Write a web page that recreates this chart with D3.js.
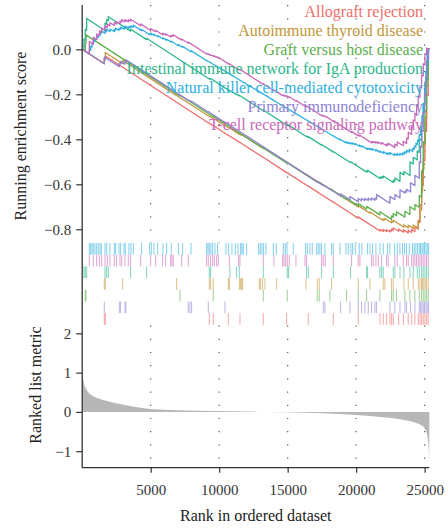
<!DOCTYPE html>
<html>
<head>
<meta charset="utf-8">
<script src="https://cdn.jsdelivr.net/npm/d3@7"></script>
<style>
  body { margin: 0; background: #fff; }
  svg { display: block; }
  text { font-family: "Liberation Serif", "DejaVu Serif", serif; }
</style>
</head>
<body>
<svg id="chart" width="448" height="529"></svg>
<script>
// ---- data -------------------------------------------------------------
const geneSets = [
  "Allograft rejection",
  "Autoimmune thyroid disease",
  "Graft versus host disease",
  "Intestinal immune network for IgA production",
  "Natural killer cell-mediated cytotoxicity",
  "Primary immunodeficiency",
  "T-cell receptor signaling pathway"
];
const setColors = ["#EF6E6B", "#C3963C", "#5CAF4C", "#2DB68C", "#2DAFE0", "#8F83D2", "#C968B8"];
// order of the hit rows under the score panel, top to bottom
const rugOrder = [4, 6, 3, 1, 2, 5, 0];

const totalGenes = 25340;
const rankTicks = [5000, 10000, 15000, 20000, 25000];
const esTicks = [0, -0.2, -0.4, -0.6, -0.8];
const metricTicks = [2, 1, 0, -1];

// ranked list metric along the ordered gene list
const metricRank  = [0, 80, 330, 690, 1300, 2030, 2760, 3800, 4950, 7000, 9820, 12000, 13500, 15000, 17500, 20040, 21980, 23200, 24420, 24900, 25150, 25280, 25340];
const metricValue = [1.03, 0.81, 0.56, 0.43, 0.33, 0.26, 0.20, 0.13, 0.076, 0.045, 0.025, 0.01, 0.0, -0.01, -0.035, -0.076, -0.135, -0.186, -0.29, -0.37, -0.54, -0.85, -1.26];

// running enrichment score at each hit: [rank, score before hit, score after hit]
const allograftES = [[1615,-0.064,-0.045],[1690,-0.048,-0.030],[9280,-0.330,-0.329],[9570,-0.340,-0.339],[10670,-0.383,-0.382],[11520,-0.415,-0.414],[13220,-0.481,-0.480],[14920,-0.548,-0.547],[16500,-0.609,-0.608],[18330,-0.680,-0.679],[20150,-0.751,-0.745],[21740,-0.808,-0.800],[21980,-0.810,-0.801],[22220,-0.810,-0.802],[22470,-0.812,-0.803],[22590,-0.808,-0.799],[22710,-0.804,-0.794],[23100,-0.809,-0.799],[23450,-0.813,-0.802],[23800,-0.816,-0.804],[24050,-0.814,-0.800],[24290,-0.810,-0.790],[24530,-0.800,-0.760],[24660,-0.765,-0.690],[24780,-0.695,-0.600],[24900,-0.605,-0.490],[25020,-0.495,-0.360],[25140,-0.365,-0.200],[25260,-0.205,0.003]];

const autoimmuneES = [[1615,-0.064,-0.039],[1687,-0.042,-0.014],[2952,-0.064,-0.050],[6894,-0.206,-0.205],[9278,-0.299,-0.297],[9376,-0.301,-0.300],[9570,-0.307,-0.306],[10665,-0.349,-0.348],[10739,-0.351,-0.349],[11468,-0.378,-0.376],[11565,-0.380,-0.379],[11638,-0.382,-0.380],[11711,-0.383,-0.381],[12928,-0.430,-0.428],[13025,-0.432,-0.430],[13171,-0.436,-0.435],[13341,-0.441,-0.440],[14193,-0.474,-0.472],[16334,-0.557,-0.555],[17161,-0.588,-0.586],[17307,-0.592,-0.591],[18207,-0.626,-0.625],[20154,-0.701,-0.695],[21005,-0.729,-0.723],[21979,-0.761,-0.754],[22100,-0.759,-0.752],[22586,-0.771,-0.763],[22708,-0.768,-0.760],[23487,-0.791,-0.781],[23803,-0.794,-0.782],[24168,-0.796,-0.781],[24533,-0.795,-0.765],[24655,-0.770,-0.710],[24776,-0.715,-0.630],[24849,-0.633,-0.530],[24946,-0.534,-0.420],[25044,-0.424,-0.300],[25141,-0.304,-0.160],[25263,-0.165,0.003]];

const graftES = [[227,-0.009,0.029],[276,0.027,0.064],[7137,-0.207,-0.204],[9570,-0.300,-0.297],[13221,-0.441,-0.438],[14972,-0.507,-0.504],[17161,-0.591,-0.588],[17307,-0.594,-0.591],[18086,-0.622,-0.619],[19302,-0.667,-0.662],[20154,-0.696,-0.686],[20762,-0.710,-0.698],[21735,-0.736,-0.722],[22586,-0.756,-0.741],[22708,-0.746,-0.730],[22952,-0.740,-0.722],[23560,-0.746,-0.720],[23925,-0.734,-0.700],[24290,-0.714,-0.690],[24606,-0.702,-0.650],[24776,-0.657,-0.540],[24898,-0.545,-0.410],[25020,-0.415,-0.270],[25141,-0.275,-0.130],[25263,-0.135,0.003]];

const intestinalES = [[130,-0.005,0.045],[227,0.041,0.089],[325,0.085,0.137],[1663,0.084,0.117],[1785,0.112,0.132],[1906,0.127,0.145],[3536,0.081,0.089],[4704,0.043,0.049],[9278,-0.132,-0.129],[9376,-0.133,-0.130],[10787,-0.186,-0.183],[11273,-0.202,-0.199],[11468,-0.207,-0.204],[13221,-0.273,-0.270],[14972,-0.339,-0.336],[15070,-0.340,-0.337],[16383,-0.389,-0.386],[16504,-0.391,-0.388],[17477,-0.426,-0.423],[18329,-0.457,-0.454],[19594,-0.504,-0.500],[20762,-0.546,-0.541],[20835,-0.544,-0.538],[21735,-0.574,-0.568],[21857,-0.573,-0.566],[21979,-0.571,-0.563],[22709,-0.592,-0.582],[22830,-0.587,-0.572],[23200,-0.587,-0.547],[23487,-0.558,-0.543],[23930,-0.561,-0.501],[24168,-0.510,-0.480],[24460,-0.492,-0.452],[24606,-0.458,-0.398],[24776,-0.405,-0.325],[24898,-0.330,-0.240],[25020,-0.245,-0.145],[25141,-0.150,-0.050],[25263,-0.055,0.003]];

const naturalKillerES = [[520,-0.021,0.000],[617,-0.004,0.014],[714,0.010,0.027],[811,0.023,0.039],[933,0.034,0.049],[1055,0.044,0.058],[1176,0.053,0.066],[1298,0.061,0.074],[1395,0.070,0.082],[1663,0.071,0.083],[1785,0.078,0.089],[2028,0.079,0.090],[2344,0.078,0.088],[2442,0.084,0.094],[2685,0.084,0.094],[2806,0.089,0.099],[3050,0.089,0.099],[3147,0.095,0.104],[3415,0.093,0.102],[3561,0.096,0.105],[3731,0.098,0.107],[4339,0.083,0.088],[4923,0.065,0.070],[5045,0.065,0.070],[5239,0.062,0.067],[5507,0.056,0.061],[5896,0.046,0.051],[6164,0.040,0.045],[6505,0.032,0.036],[7016,0.016,0.021],[7332,0.009,0.013],[7940,-0.011,-0.006],[9084,-0.051,-0.049],[9181,-0.053,-0.053],[9278,-0.056,-0.056],[9400,-0.060,-0.060],[9522,-0.065,-0.065],[9692,-0.071,-0.071],[9886,-0.078,-0.078],[10495,-0.100,-0.100],[10689,-0.107,-0.107],[10933,-0.116,-0.116],[11176,-0.125,-0.125],[11371,-0.132,-0.132],[11565,-0.139,-0.139],[11663,-0.143,-0.143],[11760,-0.146,-0.146],[12003,-0.155,-0.155],[12879,-0.187,-0.187],[13001,-0.191,-0.191],[13122,-0.196,-0.196],[13244,-0.200,-0.200],[13414,-0.206,-0.206],[13950,-0.226,-0.226],[14169,-0.234,-0.234],[14680,-0.253,-0.253],[14826,-0.258,-0.258],[14947,-0.262,-0.262],[15409,-0.279,-0.279],[16310,-0.312,-0.312],[16431,-0.316,-0.316],[16626,-0.323,-0.323],[16796,-0.329,-0.329],[17113,-0.341,-0.341],[17234,-0.345,-0.345],[17356,-0.350,-0.350],[17477,-0.354,-0.354],[17721,-0.363,-0.363],[18207,-0.381,-0.381],[18329,-0.385,-0.385],[18816,-0.403,-0.399],[19254,-0.416,-0.411],[19424,-0.418,-0.413],[19618,-0.421,-0.416],[19740,-0.421,-0.416],[19935,-0.424,-0.419],[20227,-0.431,-0.426],[20421,-0.434,-0.429],[20835,-0.445,-0.439],[21005,-0.446,-0.440],[21200,-0.448,-0.442],[21443,-0.452,-0.446],[21735,-0.458,-0.452],[21979,-0.462,-0.455],[22295,-0.467,-0.460],[22465,-0.467,-0.459],[22806,-0.472,-0.464],[23000,-0.472,-0.463],[23195,-0.471,-0.462],[23390,-0.470,-0.460],[23536,-0.466,-0.455],[23682,-0.461,-0.449],[23876,-0.457,-0.444],[24120,-0.454,-0.440],[24241,-0.445,-0.430],[24363,-0.435,-0.418],[24484,-0.423,-0.403],[24606,-0.408,-0.378],[24703,-0.382,-0.342],[24801,-0.346,-0.296],[24898,-0.300,-0.240],[24995,-0.244,-0.174],[25093,-0.178,-0.098],[25190,-0.102,-0.012],[25287,-0.016,0.002]];

const primaryES = [[1615,-0.064,-0.034],[2709,-0.077,-0.062],[2806,-0.066,-0.054],[3123,-0.066,-0.054],[3196,-0.057,-0.047],[7745,-0.227,-0.225],[7867,-0.230,-0.228],[7989,-0.233,-0.231],[9205,-0.279,-0.277],[10422,-0.325,-0.323],[17599,-0.606,-0.604],[17721,-0.609,-0.607],[18865,-0.652,-0.642],[19546,-0.669,-0.654],[20154,-0.678,-0.663],[20397,-0.673,-0.663],[20640,-0.672,-0.662],[20884,-0.672,-0.662],[21127,-0.671,-0.661],[21370,-0.671,-0.661],[21492,-0.666,-0.646],[22465,-0.684,-0.654],[22830,-0.668,-0.646],[23200,-0.661,-0.625],[23560,-0.639,-0.630],[23682,-0.635,-0.622],[23974,-0.634,-0.593],[24290,-0.606,-0.560],[24606,-0.573,-0.500],[24703,-0.504,-0.430],[24801,-0.434,-0.360],[24898,-0.364,-0.280],[24995,-0.284,-0.200],[25093,-0.204,-0.120],[25190,-0.124,-0.040],[25287,-0.044,0.002]];

const tcellES = [[520,-0.021,0.035],[811,0.023,0.053],[1055,0.043,0.068],[1249,0.060,0.082],[1420,0.075,0.095],[1663,0.085,0.103],[1833,0.096,0.112],[2028,0.104,0.118],[2344,0.106,0.119],[2515,0.112,0.124],[2758,0.114,0.126],[2880,0.121,0.132],[3123,0.122,0.132],[3366,0.122,0.132],[3536,0.125,0.134],[4266,0.105,0.113],[4996,0.084,0.092],[5360,0.078,0.085],[5871,0.065,0.072],[6090,0.063,0.069],[6456,0.055,0.061],[6553,0.057,0.063],[6650,0.059,0.065],[7259,0.041,0.046],[7745,0.027,0.032],[9084,-0.021,-0.018],[9205,-0.023,-0.020],[9376,-0.027,-0.024],[9522,-0.030,-0.027],[9644,-0.032,-0.029],[9814,-0.036,-0.033],[9936,-0.038,-0.035],[10739,-0.067,-0.064],[11420,-0.091,-0.088],[11518,-0.092,-0.089],[13221,-0.156,-0.153],[13999,-0.184,-0.181],[14632,-0.206,-0.203],[14729,-0.207,-0.204],[14851,-0.209,-0.206],[14972,-0.211,-0.208],[15118,-0.214,-0.211],[15605,-0.230,-0.227],[16262,-0.253,-0.250],[16383,-0.255,-0.252],[17477,-0.295,-0.292],[17599,-0.297,-0.294],[17745,-0.300,-0.297],[18329,-0.320,-0.317],[19667,-0.370,-0.366],[20154,-0.385,-0.381],[20275,-0.386,-0.382],[21127,-0.416,-0.410],[21249,-0.415,-0.409],[21443,-0.417,-0.411],[21614,-0.418,-0.412],[21857,-0.422,-0.415],[22222,-0.429,-0.421],[22343,-0.426,-0.418],[22830,-0.437,-0.422],[23000,-0.429,-0.412],[23438,-0.429,-0.409],[23682,-0.419,-0.394],[23803,-0.399,-0.369],[24046,-0.379,-0.344],[24168,-0.349,-0.314],[24290,-0.319,-0.284],[24411,-0.289,-0.249],[24533,-0.254,-0.209],[24655,-0.214,-0.164],[24776,-0.169,-0.114],[24898,-0.119,-0.064],[25020,-0.069,-0.019],[25141,-0.024,0.006],[25263,0.001,0.003]];

const runningScores = [allograftES, autoimmuneES, graftES, intestinalES, naturalKillerES, primaryES, tcellES];

// ---- layout -----------------------------------------------------------
const svg = d3.select("#chart");
const axisColor = "#333";
const serif = "Liberation Serif, DejaVu Serif, serif";

const x = d3.scaleLinear().domain([0, totalGenes]).range([82.2, 429.3]);
const yES = d3.scaleLinear().domain([-0.861, 0.197]).range([243, 5]);
const yMetric = d3.scaleLinear().domain([-1.42, 2.2]).range([467.7, 325.5]);
const rugTop = 243, rugRow = 11.7;

// dotted vertical grid in the score and metric panels
const grid = svg.append("g")
  .attr("stroke", "#555").attr("stroke-width", 1.2)
  .attr("stroke-dasharray", "1.2 12").attr("stroke-linecap", "butt");
[[yES.range()[1], yES.range()[0]], [yMetric.range()[1], yMetric.range()[0]]].forEach(([y0, y1]) => {
  grid.selectAll(null).data(rankTicks).join("line")
    .attr("x1", d => x(d)).attr("x2", d => x(d))
    .attr("y1", y0).attr("y2", y1);
});

// ranked list metric
svg.append("path")
  .datum(metricRank.map((r, i) => [r, metricValue[i]]))
  .attr("fill", "#b7b7b7")
  .attr("d", d3.area()
    .x(d => x(d[0]))
    .y0(yMetric(0))
    .y1(d => yMetric(d[1]))
    .curve(d3.curveMonotoneX));

// running enrichment score curves
const esLine = d3.line().x(d => x(d[0])).y(d => yES(d[1]));
runningScores.forEach((hits, i) => {
  const pts = [[0, 0]];
  hits.forEach(h => { pts.push([h[0], h[1]]); pts.push([h[0], h[2]]); });
  pts.push([totalGenes, 0]);
  svg.append("path")
    .datum(pts)
    .attr("fill", "none")
    .attr("stroke", setColors[i])
    .attr("stroke-width", 1.3)
    .attr("stroke-linejoin", "round")
    .attr("d", esLine);
});

// hit positions, one row per gene set
rugOrder.forEach((setIdx, row) => {
  svg.append("g")
    .attr("stroke", setColors[setIdx])
    .attr("stroke-width", 1)
    .attr("stroke-opacity", 0.6)
    .selectAll("line")
    .data(runningScores[setIdx])
    .join("line")
    .attr("x1", d => x(d[0])).attr("x2", d => x(d[0]))
    .attr("y1", rugTop + row * rugRow)
    .attr("y2", rugTop + (row + 1) * rugRow);
});

// axes
function styleAxis(g) {
  g.attr("font-family", serif);
  g.selectAll(".tick line").attr("stroke", axisColor).attr("stroke-width", 1.2);
  g.selectAll(".tick text").attr("fill", axisColor).attr("font-size", 15);
  g.select(".domain").remove();
}
svg.append("g").attr("transform", `translate(${x(0)},0)`)
  .call(d3.axisLeft(yES).tickValues(esTicks).tickFormat(d3.format(".1f")).tickSize(6).tickPadding(5))
  .call(styleAxis);
svg.append("g").attr("transform", `translate(${x(0)},0)`)
  .call(d3.axisLeft(yMetric).tickValues(metricTicks).tickFormat(d3.format("d")).tickSize(6).tickPadding(5))
  .call(styleAxis);
svg.append("g").attr("transform", `translate(0,${yMetric.range()[0]})`)
  .call(d3.axisBottom(x).tickValues(rankTicks).tickFormat(d3.format("d")).tickSize(5).tickPadding(12))
  .call(styleAxis);

// continuous left spine and bottom axis line
svg.append("line")
  .attr("x1", x(0)).attr("x2", x(0))
  .attr("y1", yES.range()[1]).attr("y2", yMetric.range()[0])
  .attr("stroke", axisColor).attr("stroke-width", 1.3);
svg.append("line")
  .attr("x1", x(0)).attr("x2", x(totalGenes))
  .attr("y1", yMetric.range()[0]).attr("y2", yMetric.range()[0])
  .attr("stroke", axisColor).attr("stroke-width", 1.3);

// axis titles
svg.append("text")
  .attr("transform", "translate(25.5,136) rotate(-90)")
  .attr("text-anchor", "middle").attr("font-size", 16).attr("fill", "#222")
  .text("Running enrichment score");
svg.append("text")
  .attr("transform", "translate(40.5,385) rotate(-90)")
  .attr("text-anchor", "middle").attr("font-size", 16).attr("fill", "#222")
  .text("Ranked list metric");
svg.append("text")
  .attr("x", (x.range()[0] + x.range()[1]) / 2).attr("y", 521)
  .attr("text-anchor", "middle").attr("font-size", 16).attr("fill", "#222")
  .text("Rank in ordered dataset");

// legend
svg.append("g").selectAll("text")
  .data(geneSets)
  .join("text")
  .attr("x", 423)
  .attr("y", (d, i) => 17 + i * 18.9)
  .attr("text-anchor", "end")
  .attr("font-size", 16)
  .attr("fill", (d, i) => setColors[i])
  .text(d => d);
</script>
</body>
</html>
